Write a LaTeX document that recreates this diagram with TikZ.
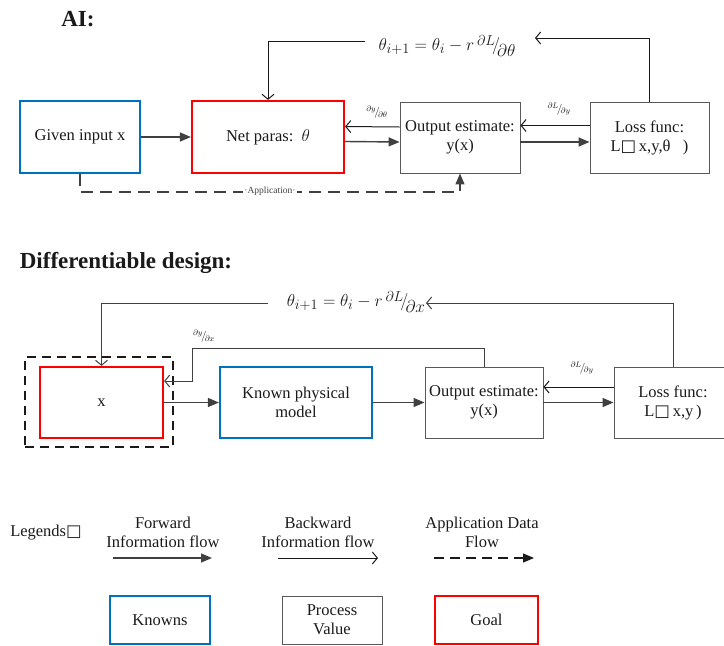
\documentclass[tikz,border=0pt]{standalone}
\usepackage{fontspec}
\setmainfont{Liberation Serif}
\newfontfamily\symfont{DejaVu Sans}
\usetikzlibrary{arrows.meta,positioning,calc}
\definecolor{KnownBlue}{HTML}{0070C0}
\definecolor{GoalRed}{HTML}{FF0000}
\definecolor{Ink}{HTML}{1A1A1A}
\definecolor{Fwd}{HTML}{404040}
\definecolor{Frame}{HTML}{595959}
\newcommand{\slfrac}[2]{{}^{#1}\!\big/\!_{#2}}
\newcommand{\bigslfrac}[2]{\raisebox{5pt}{$\scriptstyle#1$}\!\Big/\!\raisebox{-6pt}{$#2$}}
\tikzset{
  txt/.style={font=\fontsize{16.5}{19}\selectfont,text=Ink,align=center},
  known/.style={txt,draw=KnownBlue,line width=2.2pt,inner sep=0pt},
  goal/.style={txt,draw=GoalRed,line width=2.2pt,inner sep=0pt},
  proc/.style={txt,draw=Frame,line width=0.9pt,inner sep=0pt},
  heading/.style={font=\fontsize{23}{27}\selectfont\bfseries,text=Ink},
  update/.style={font=\fontsize{19}{22}\selectfont,text=Ink},
  tinylbl/.style={font=\fontsize{11}{12}\selectfont,text=Ink},
  arr/.style={-{Triangle[length=11pt,width=9pt]},draw=Fwd,line width=1.4pt},
  backarr/.style={-{Straight Barb[length=5pt,width=12pt]},draw=Ink,line width=1pt},
  apparr/.style={-{Triangle[length=11pt,width=9pt]},draw=Fwd,line width=1.3pt,dash pattern=on 12pt off 7pt}
}
\begin{document}
\begin{tikzpicture}[x=1pt,y=-1pt]
  \useasboundingbox (0,0) rectangle (724,646);
  % AI
  \node[heading] (aititle) at (78,19) {AI:};
  \node[known,minimum width=120,minimum height=72] (given) at (80,137) {Given input x};
  \node[goal,minimum width=152,minimum height=72] (net) at (268,137) {Net paras:\ \ $\theta$};
  \node[proc,minimum width=120,minimum height=71] (out) at (460,137.5) {Output estimate:\\y(x)};
  \node[proc,minimum width=119,minimum height=71] (loss) at (649.5,137.5) {Loss func:\\L{\symfont □}\,x,y,θ\ \ \ )};
  \node[update] (upd1) at (447,46) {$\theta_{i+1}=\theta_i-r\,\bigslfrac{\partial L}{\partial\theta}$};
  \coordinate (upd1in) at (535,38);
  \coordinate (upd1out) at (365,41);
  \draw[arr] (given) -- (net);
  \draw[arr] ([yshift=-4.5pt]net.east) -- ([yshift=-4.5pt]out.west);
  \draw[arr] ([yshift=-4.5pt]out.east) -- ([yshift=-4.5pt]loss.west);
  \draw[backarr] ([yshift=10.5pt]out.west) -- ([yshift=10.5pt]net.east);
  \draw[backarr] ([yshift=12pt]loss.west) -- ([yshift=12pt]out.east);
  \draw[backarr] (loss.north) |- (upd1in);
  \draw[backarr] (upd1out) -| (net.north);
  \node[tinylbl] (dydt) at (377,112) {$\slfrac{\partial y}{\partial\theta}$};
  \node[tinylbl] (dLdy1) at (559,109) {$\slfrac{\partial L}{\partial y}$};
  \draw[apparr] (given.south) -- ++(0,18) -| (out.south);
  \node[font=\fontsize{9.5}{10}\selectfont,text=Fwd,fill=white,inner sep=1pt] (applbl) at (270,191) {·Application·};
  % Differentiable design
  \node[heading] (dtitle) at (126,263) {Differentiable design:};
  \node[draw=Ink,line width=1.3pt,dash pattern=on 9pt off 6pt,minimum width=148,minimum height=90] (xframe) at (99,402) {};
  \node[goal,minimum width=123,minimum height=71] (xbox) at (101.5,402.5) {x};
  \node[known,minimum width=152,minimum height=71] (phys) at (296,402.5) {Known physical\\model};
  \node[proc,minimum width=118,minimum height=71] (out2) at (484,402.5) {Output estimate:\\y(x)};
  \node[proc,minimum width=118,minimum height=71] (loss2) at (673,402.5) {Loss func:\\L{\symfont □}\,x,y\,)};
  \node[update] (upd2) at (356,302) {$\theta_{i+1}=\theta_i-r\,\bigslfrac{\partial L}{\partial x}$};
  \coordinate (upd2in) at (426,303);
  \coordinate (upd2out) at (268,303);
  \coordinate (bend) at (192,348);
  \draw[arr] (xbox) -- (phys);
  \draw[arr] (phys) -- (out2);
  \draw[arr] (out2) -- (loss2);
  \draw[backarr] ([yshift=15.5pt]loss2.west) -- ([yshift=15.5pt]out2.east);
  \draw[backarr,draw=Fwd] (out2.north) |- (bend) |- ([yshift=21.5pt]xbox.east);
  \draw[backarr,draw=Fwd] (loss2.north) |- (upd2in);
  \draw[backarr,draw=Fwd] (upd2out) -| (xbox.north);
  \node[tinylbl] (dydx) at (204,336) {$\slfrac{\partial y}{\partial x}$};
  \node[tinylbl] (dLdy2) at (582,368) {$\slfrac{\partial L}{\partial y}$};
  % Legends
  \node[txt] (legtitle) at (46,533) {Legends{\symfont □}};
  \node[txt] (fwdtxt) at (163,532) {Forward\\Information flow};
  \node[txt] (bwdtxt) at (318,532) {Backward\\Information flow};
  \node[txt] (apptxt) at (482,532) {Application Data\\Flow};
  \coordinate (fwdA) at (113,558);
  \coordinate (fwdB) at (212,558);
  \coordinate (bwdA) at (278,558);
  \coordinate (bwdB) at (378,558);
  \coordinate (appA) at (434,558);
  \coordinate (appB) at (534,558);
  \draw[arr] (fwdA) -- (fwdB);
  \draw[backarr] (bwdA) -- (bwdB);
  \draw[apparr,draw=Ink,dash pattern=on 10pt off 6pt] (appA) -- (appB);
  \node[known,minimum width=100,minimum height=48] (knownkey) at (160,620) {Knowns};
  \node[proc,minimum width=100,minimum height=48] (prockey) at (332,620) {Process\\Value};
  \node[goal,minimum width=103,minimum height=48] (goalkey) at (486.5,620) {Goal};
\end{tikzpicture}
\end{document}
